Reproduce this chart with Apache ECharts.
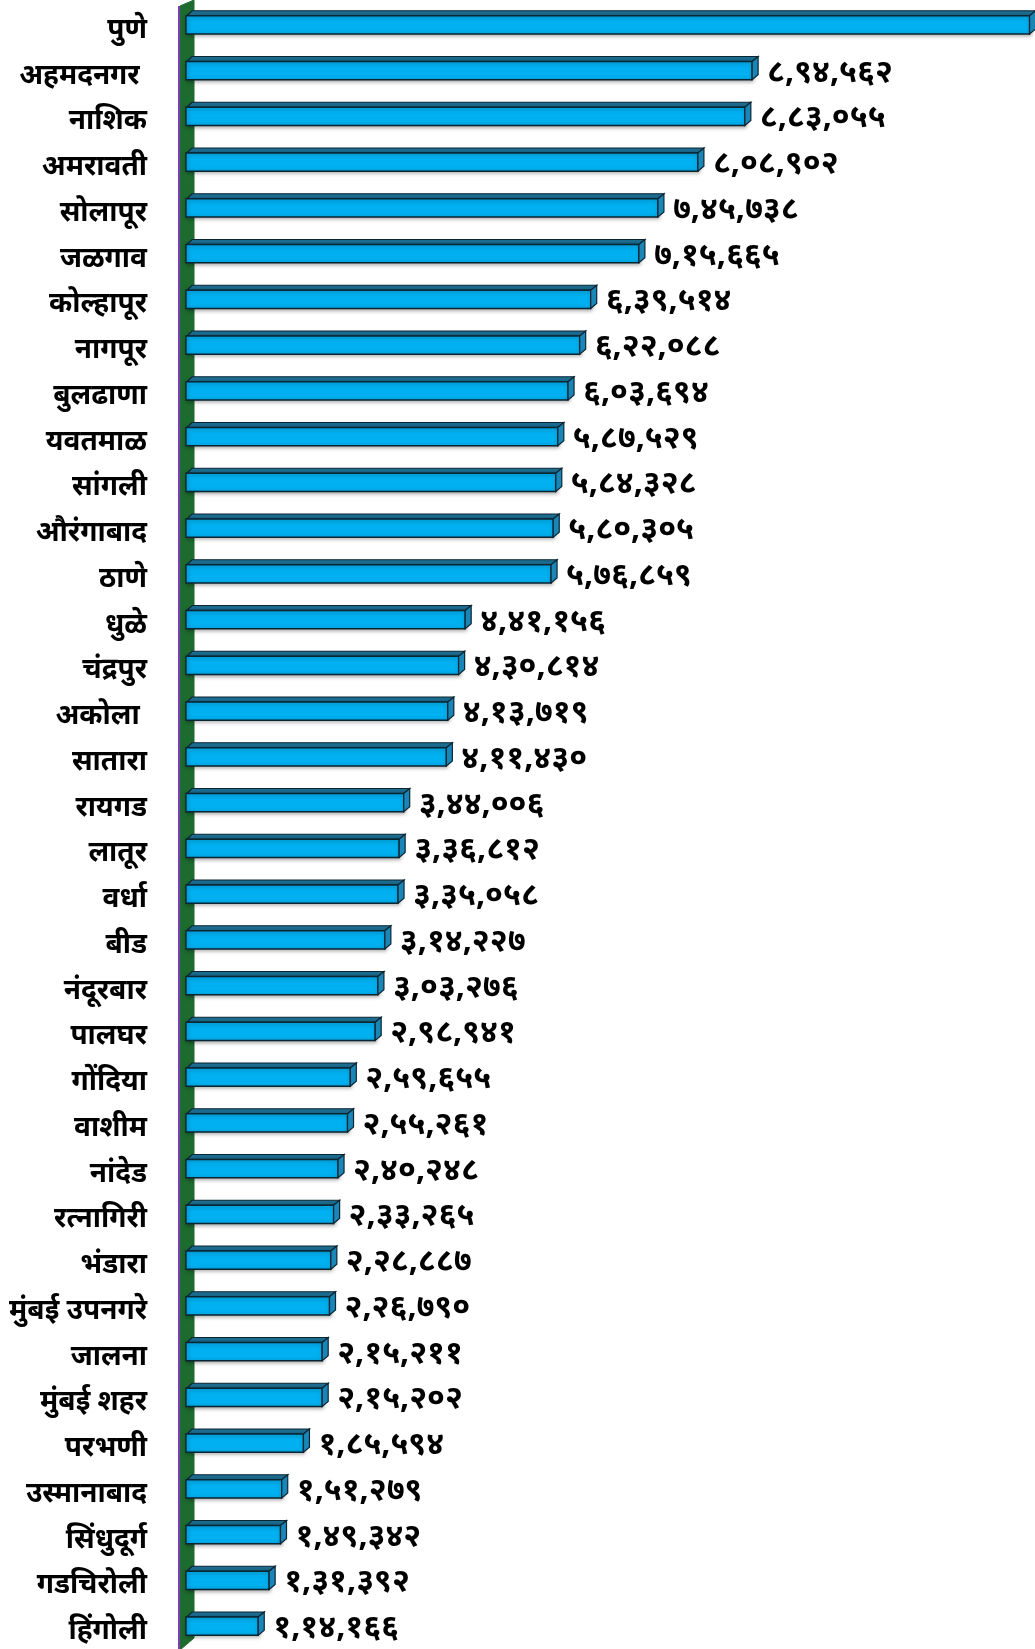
<!DOCTYPE html>
<html>
<head>
<meta charset="utf-8">
<title>जिल्हानिहाय संख्या</title>
<script src="https://cdn.jsdelivr.net/npm/echarts@6/dist/echarts.min.js"></script>
<style>
  html, body { margin: 0; padding: 0; background: #ffffff; }
  #chart { width: 1035px; height: 1649px; }
</style>
</head>
<body>
<div id="chart"></div>
<script>
// District names, top to bottom
const districts = [
  'पुणे', 'अहमदनगर ', 'नाशिक', 'अमरावती', 'सोलापूर', 'जळगाव', 'कोल्हापूर', 'नागपूर', 'बुलढाणा',
  'यवतमाळ', 'सांगली', 'औरंगाबाद', 'ठाणे', 'धुळे', 'चंद्रपुर', 'अकोला ', 'सातारा', 'रायगड',
  'लातूर', 'वर्धा', 'बीड', 'नंदूरबार', 'पालघर', 'गोंदिया', 'वाशीम', 'नांदेड', 'रत्नागिरी',
  'भंडारा', 'मुंबई उपनगरे', 'जालना', 'मुंबई शहर', 'परभणी', 'उस्मानाबाद', 'सिंधुदूर्ग', 'गडचिरोली', 'हिंगोली'
];

// Count per district (same order as above)
const counts = [
  1333000, 894562, 883055, 808902, 745738, 715665, 639514, 622088, 603694,
  587529, 584328, 580305, 576859, 441156, 430814, 413719, 411430, 344006,
  336812, 335058, 314227, 303276, 298941, 259655, 255261, 240248, 233265,
  228887, 226790, 215211, 215202, 185594, 151279, 149342, 131392, 114166
];

// Districts whose value label is not printed
const hiddenLabels = ['पुणे'];

const axisMax = 1340000;

const devanagariDigits = ['०', '१', '२', '३', '४', '५', '६', '७', '८', '९'];

// Indian digit grouping (x,xx,xxx) written with Devanagari numerals
function formatIndian(n) {
  const s = String(Math.round(n));
  let head = s.slice(0, -3);
  const tail = s.slice(-3);
  const groups = [];
  while (head.length > 2) {
    groups.unshift(head.slice(-2));
    head = head.slice(0, -2);
  }
  if (head.length) groups.unshift(head);
  groups.push(tail);
  return groups.join(',').replace(/[0-9]/g, d => devanagariDigits[+d]);
}

const FONT = "'Noto Sans', 'DejaVu Sans', sans-serif";

const chart = echarts.init(document.getElementById('chart'), null, { renderer: 'canvas' });

// Box-shaped bar: front face, top face and right side face
function renderBox(params, api) {
  const idx = api.value(1);
  const val = api.value(0);
  const start = api.coord([0, idx]);
  const end = api.coord([val, idx]);
  const band = api.size([0, 1])[1];
  const h = band * 0.40;
  const dx = 6, dy = 5;
  const x0 = start[0], x1 = end[0];
  const y = end[1] - h / 2 + 1;
  const stroke = '#0b2633';
  const children = [
    {
      type: 'polygon',
      shape: { points: [[x0 + 1, y], [x1, y], [x1 + dx, y - dy], [x0 + dx, y - dy]] },
      style: { fill: '#1d6f93', stroke: stroke, lineWidth: 1.2 }
    },
    {
      type: 'rect',
      shape: { x: x0, y: y, width: x1 - x0, height: h },
      style: {
        fill: '#00b0f0', stroke: stroke, lineWidth: 1.4,
        shadowBlur: 4, shadowColor: 'rgba(0,0,0,0.35)', shadowOffsetX: 1, shadowOffsetY: 1
      }
    },
    {
      type: 'polygon',
      shape: { points: [[x1, y], [x1 + dx, y - dy], [x1 + dx, y + h - dy], [x1, y + h]] },
      style: { fill: '#1a86b8', stroke: stroke, lineWidth: 1.2 }
    }
  ];
  const name = districts[idx];
  if (hiddenLabels.indexOf(name) < 0) {
    children.push({
      type: 'text',
      x: x1 + dx + 9,
      y: end[1] + 3,
      style: {
        text: formatIndian(val),
        fill: '#000000',
        font: 'bold 32px ' + FONT,
        verticalAlign: 'middle',
        align: 'left'
      }
    });
  }
  return { type: 'group', children: children };
}

// Green side wall standing along the category axis
function renderWall(params, api) {
  const cs = params.coordSys;
  const zx = api.coord([0, 0])[0];
  const top = cs.y - 1;
  const bottom = cs.y + cs.height + 2;
  return {
    type: 'group',
    children: [
      {
        type: 'polygon',
        shape: { points: [[zx - 6, top + 6], [zx + 8, top], [zx + 8, bottom - 12], [zx - 6, bottom]] },
        style: { fill: '#1e6b30', stroke: '#1e6b30', lineWidth: 1 }
      },
      {
        type: 'line',
        shape: { x1: zx - 7, y1: top + 6, x2: zx - 7, y2: bottom },
        style: { stroke: '#7a3fb0', lineWidth: 2 }
      }
    ]
  };
}

const option = {
  backgroundColor: '#ffffff',
  animation: false,
  grid: { left: 186, right: 1, top: 1, bottom: 1, containLabel: false },
  xAxis: {
    type: 'value', min: 0, max: axisMax,
    show: false, splitLine: { show: false }
  },
  yAxis: {
    type: 'category',
    data: districts,
    inverse: true,
    axisLine: { show: false },
    axisTick: { show: false },
    axisLabel: {
      margin: 39,
      color: '#000000',
      fontSize: 28,
      fontWeight: 'bold',
      fontFamily: FONT,
      verticalAlign: 'top',
      lineHeight: 12
    }
  },
  series: [
    {
      type: 'custom',
      name: 'wall',
      renderItem: renderWall,
      data: [[0, 0]],
      encode: { x: 0, y: 1 },
      silent: true,
      z: 1
    },
    {
      type: 'custom',
      name: 'संख्या',
      renderItem: renderBox,
      data: counts.map((v, i) => [v, i]),
      encode: { x: 0, y: 1 },
      clip: false,
      z: 2
    }
  ]
};

chart.setOption(option);
</script>
</body>
</html>
